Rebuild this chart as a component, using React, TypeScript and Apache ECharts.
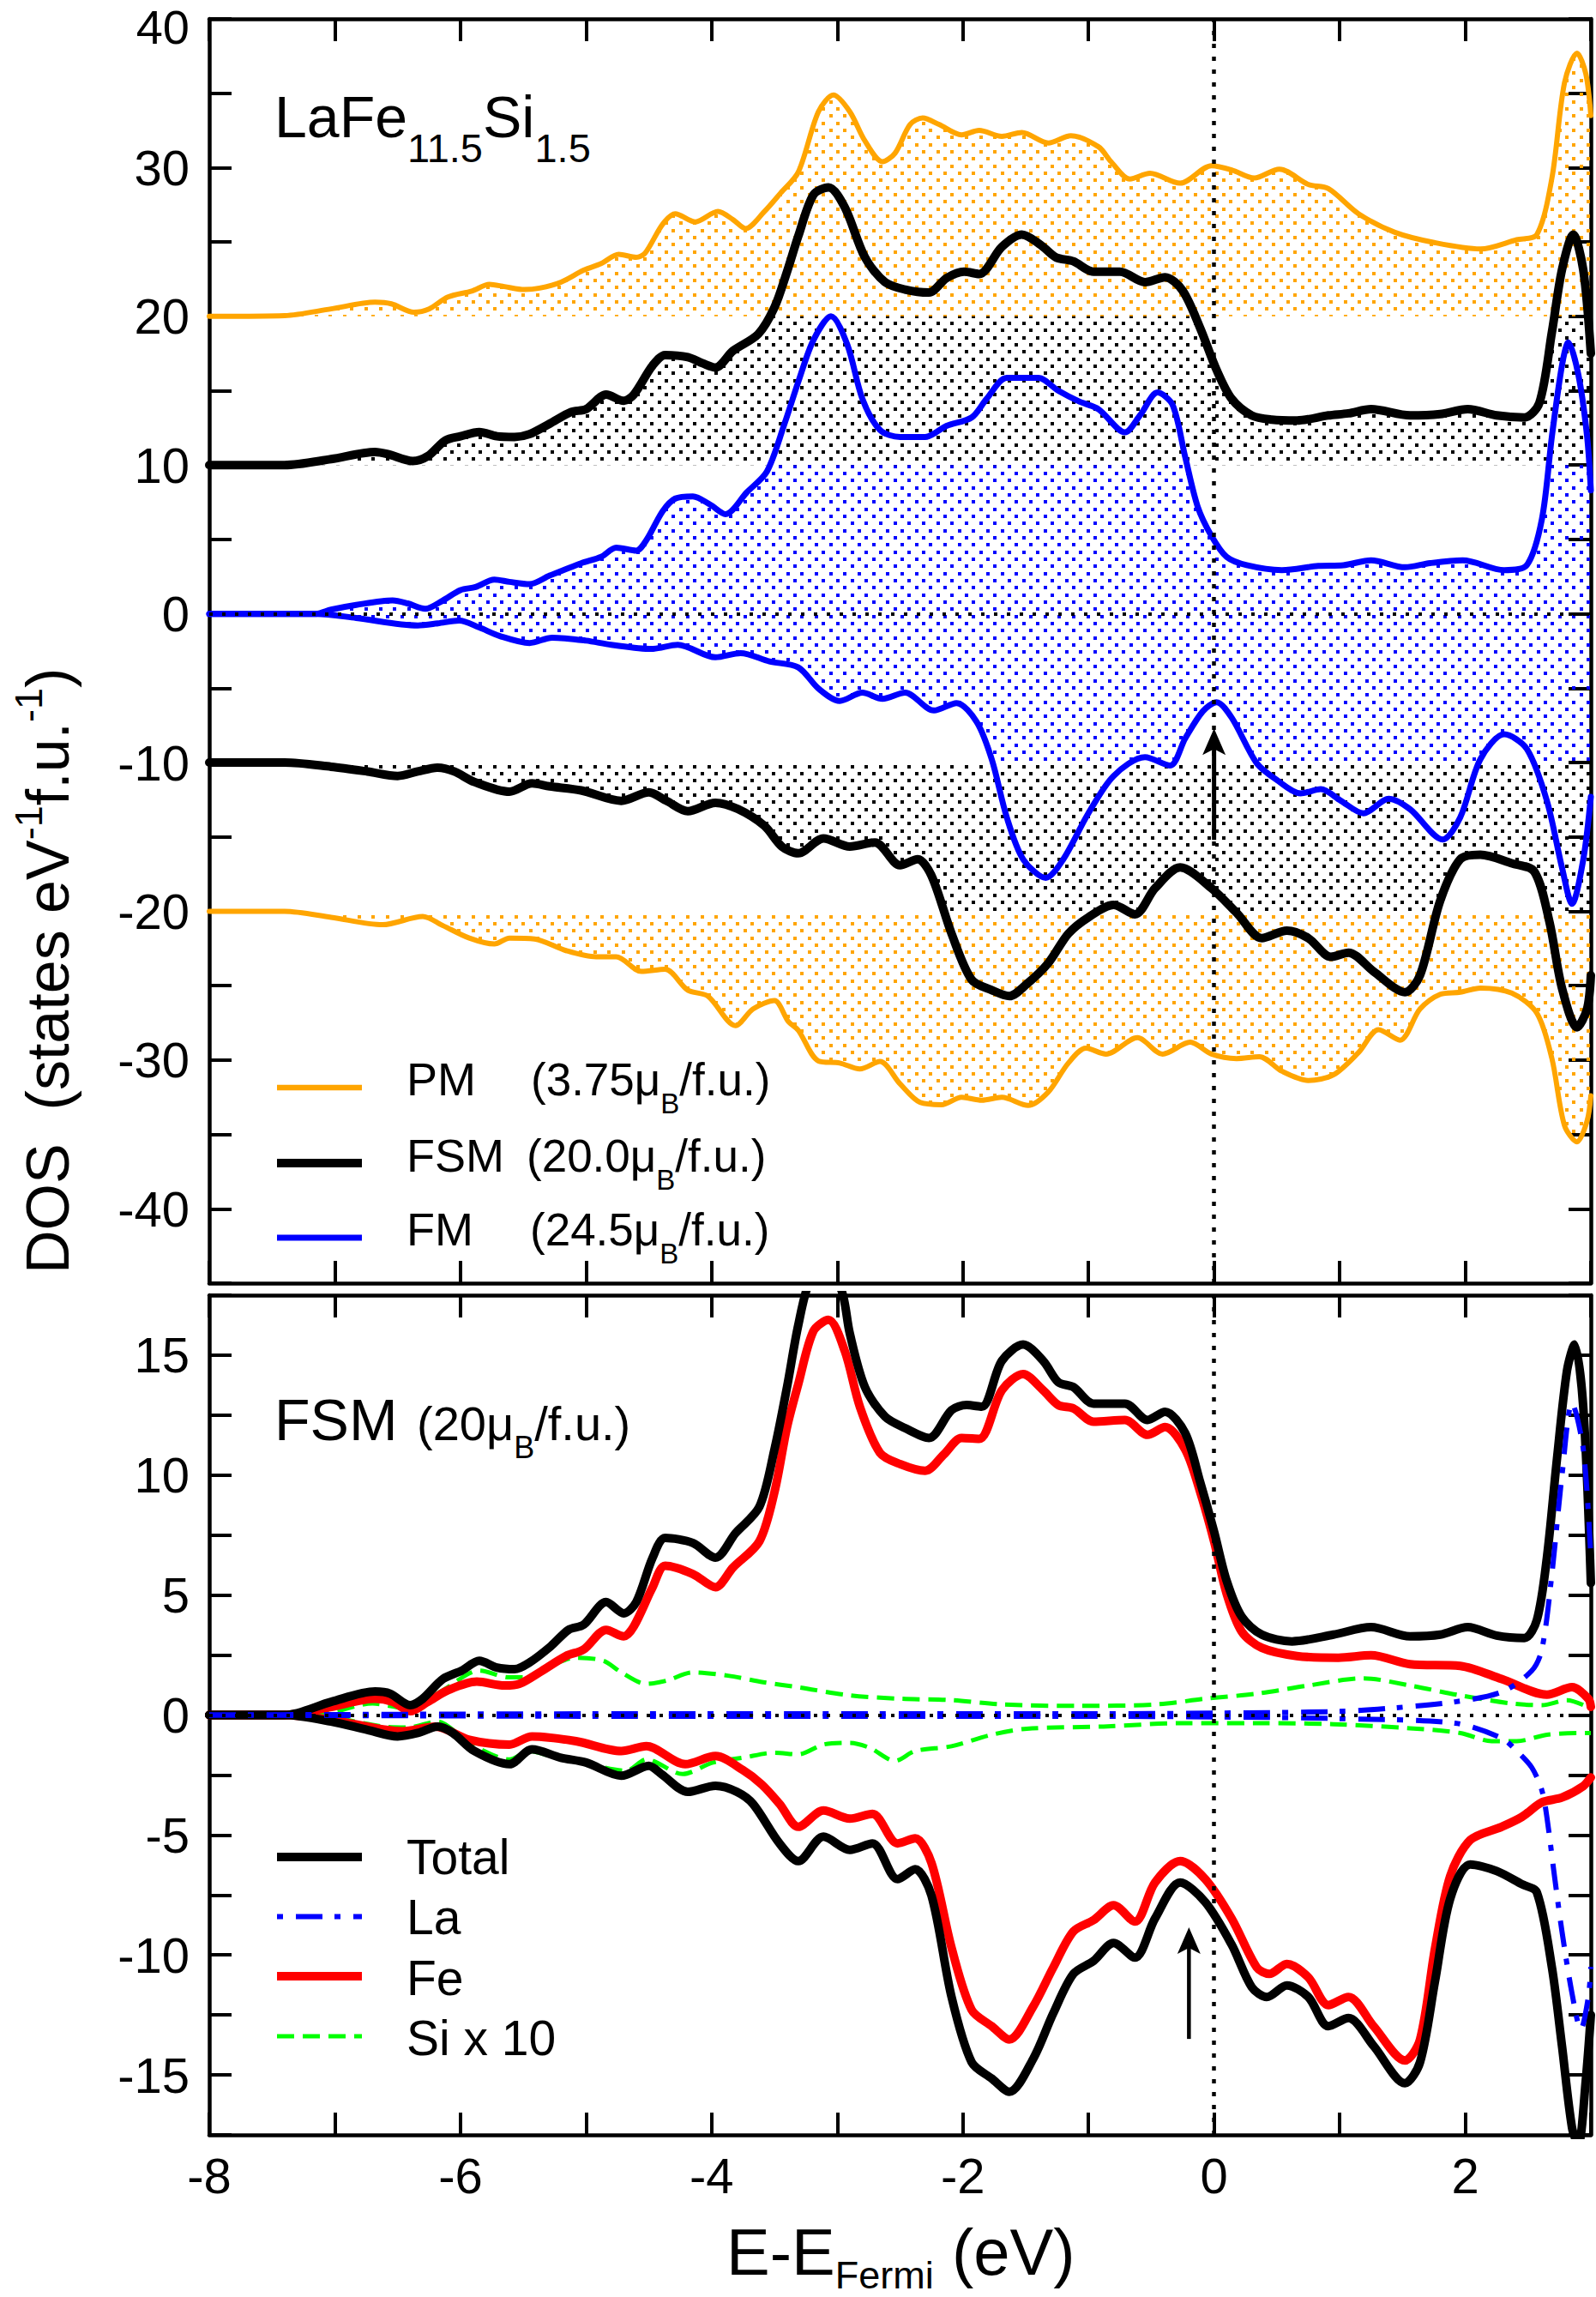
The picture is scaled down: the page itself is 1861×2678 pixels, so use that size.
import React, { useEffect, useRef } from 'react';
import * as echarts from 'echarts';

const FONT = '"Liberation Sans", Arial, Helvetica, sans-serif';

const X_LABELS = [-8, -6, -4, -2, 0, 2];
const TOP_Y_LABELS = [-40, -30, -20, -10, 0, 10, 20, 30, 40];
const BOT_Y_LABELS = [-15, -10, -5, 0, 5, 10, 15];

// ---------- top panel (curves as drawn, with their offsets) ----------
const PM_UP: [number, number][] = [
  [-8, 20], [-7.4, 20.05], [-7.03, 20.5], [-6.68, 20.95], [-6.55, 20.84], [-6.37, 20.28], [-6.25, 20.5],
  [-6.1, 21.3], [-5.91, 21.7], [-5.77, 22.15], [-5.65, 22.0], [-5.49, 21.8], [-5.37, 21.9], [-5.2, 22.3],
  [-5.02, 23.1], [-4.88, 23.55], [-4.74, 24.17], [-4.6, 23.97], [-4.53, 24.25], [-4.39, 26.2], [-4.29, 26.9],
  [-4.13, 26.35], [-3.95, 27.05], [-3.83, 26.5], [-3.73, 25.9], [-3.58, 27.05], [-3.45, 28.3], [-3.31, 29.7],
  [-3.15, 33.76], [-3.03, 34.88], [-2.9, 33.76], [-2.78, 31.8], [-2.64, 30.4], [-2.54, 30.97], [-2.42, 32.9],
  [-2.32, 33.34], [-2.19, 32.9], [-2.01, 32.2], [-1.87, 32.5], [-1.69, 32.1], [-1.53, 32.36], [-1.32, 31.66],
  [-1.14, 32.14], [-0.92, 31.4], [-0.82, 30.4], [-0.67, 29.23], [-0.51, 29.62], [-0.27, 28.95], [-0.02, 30.13],
  [0.14, 29.85], [0.32, 29.3], [0.52, 29.9], [0.75, 28.87], [0.91, 28.59], [1.15, 26.9], [1.44, 25.65],
  [1.76, 24.95], [2.12, 24.53], [2.41, 25.15], [2.57, 25.5], [2.69, 29.3], [2.79, 35.7], [2.89, 37.7],
  [2.96, 36.3], [3.0, 33.5],
];
const PM_DOWN: [number, number][] = [
  [-8, -20], [-7.4, -20.0], [-7.03, -20.4], [-6.62, -20.9], [-6.3, -20.35], [-6.14, -20.96], [-5.93, -21.8],
  [-5.73, -22.2], [-5.61, -21.8], [-5.41, -21.86], [-5.16, -22.64], [-4.92, -23.06], [-4.76, -23.06],
  [-4.56, -24.04], [-4.37, -23.9], [-4.19, -25.3], [-4.03, -25.7], [-3.81, -27.68], [-3.67, -26.56],
  [-3.5, -26.0], [-3.39, -27.4], [-3.31, -28.0], [-3.15, -30.06], [-2.98, -30.2], [-2.82, -30.6],
  [-2.66, -30.1], [-2.5, -31.6], [-2.34, -32.85], [-2.17, -33.0], [-2.01, -32.5], [-1.85, -32.7],
  [-1.69, -32.5], [-1.48, -33.05], [-1.32, -32.15], [-1.16, -30.2], [-1.02, -29.2], [-0.86, -29.6],
  [-0.61, -28.5], [-0.41, -29.6], [-0.19, -28.8], [-0.02, -29.6], [0.18, -29.9], [0.36, -29.77],
  [0.54, -30.75], [0.75, -31.37], [0.95, -31.0], [1.15, -29.5], [1.31, -27.96], [1.48, -28.66],
  [1.64, -26.56], [1.8, -25.58], [1.96, -25.44], [2.12, -25.16], [2.37, -25.5], [2.57, -26.84],
  [2.69, -29.9], [2.79, -34.4], [2.89, -35.5], [2.97, -34.1], [3.0, -32.4],
];
const FSM_UP: [number, number][] = [
  [-8, 10], [-7.4, 10.0], [-7.03, 10.4], [-6.68, 10.88], [-6.58, 10.74], [-6.38, 10.27], [-6.26, 10.6],
  [-6.12, 11.66], [-6.0, 11.94], [-5.85, 12.22], [-5.71, 11.94], [-5.57, 11.89], [-5.45, 12.08],
  [-5.29, 12.78], [-5.12, 13.57], [-5.0, 13.76], [-4.84, 14.74], [-4.7, 14.32], [-4.62, 14.74],
  [-4.47, 16.7], [-4.37, 17.4], [-4.19, 17.26], [-4.07, 16.84], [-3.97, 16.56], [-3.83, 17.68],
  [-3.63, 18.8], [-3.5, 20.6], [-3.4, 23.0], [-3.31, 25.4], [-3.19, 28.17], [-3.07, 28.67], [-2.94, 27.33],
  [-2.78, 23.97], [-2.62, 22.3], [-2.46, 21.8], [-2.27, 21.6], [-2.13, 22.57], [-1.99, 23.0], [-1.87, 22.85],
  [-1.69, 24.67], [-1.53, 25.5], [-1.38, 24.8], [-1.26, 23.97], [-1.12, 23.7], [-0.96, 23.0], [-0.75, 23.0],
  [-0.55, 22.3], [-0.39, 22.63], [-0.25, 21.73], [-0.11, 19.2], [0.02, 16.4], [0.14, 14.46], [0.3, 13.34],
  [0.46, 13.06], [0.66, 13.0], [0.91, 13.34], [1.07, 13.48], [1.25, 13.76], [1.56, 13.34], [1.8, 13.43],
  [2.02, 13.76], [2.25, 13.34], [2.47, 13.2], [2.59, 14.18], [2.69, 18.94], [2.77, 23.13], [2.86, 25.5],
  [2.94, 23.1], [3.0, 17.5],
];
const FSM_DOWN: [number, number][] = [
  [-8, -10], [-7.4, -10.0], [-7.03, -10.28], [-6.74, -10.6], [-6.5, -10.9], [-6.34, -10.6], [-6.18, -10.34],
  [-6.05, -10.6], [-5.89, -11.3], [-5.61, -11.96], [-5.43, -11.4], [-5.29, -11.6], [-5.04, -11.87],
  [-4.72, -12.57], [-4.5, -12.0], [-4.36, -12.57], [-4.19, -13.27], [-3.97, -12.7], [-3.79, -13.13],
  [-3.58, -14.25], [-3.44, -15.65], [-3.31, -16.1], [-3.11, -15.1], [-2.9, -15.65], [-2.7, -15.37],
  [-2.5, -16.9], [-2.36, -16.5], [-2.25, -17.6], [-2.09, -21.5], [-1.93, -24.6], [-1.77, -25.3],
  [-1.63, -25.7], [-1.49, -24.88], [-1.32, -23.48], [-1.16, -21.5], [-1.0, -20.4], [-0.8, -19.57],
  [-0.63, -20.2], [-0.47, -18.45], [-0.27, -17.05], [-0.02, -18.45], [0.18, -20.1], [0.38, -21.8],
  [0.58, -21.3], [0.75, -21.8], [0.93, -23.06], [1.07, -22.78], [1.27, -24.04], [1.52, -25.44],
  [1.64, -24.3], [1.8, -19.3], [1.96, -16.5], [2.12, -16.2], [2.37, -16.77], [2.55, -17.33], [2.67, -20.7],
  [2.77, -25.16], [2.89, -27.8], [2.97, -26.56], [3.0, -24.3],
];
const FM_UP: [number, number][] = [
  [-8, 0], [-7.15, 0], [-7.03, 0.28], [-6.83, 0.6], [-6.54, 0.9], [-6.42, 0.7], [-6.28, 0.34], [-6.14, 0.9],
  [-6.0, 1.6], [-5.88, 1.8], [-5.73, 2.3], [-5.61, 2.15], [-5.45, 2.0], [-5.29, 2.57], [-5.04, 3.4],
  [-4.88, 3.83], [-4.76, 4.45], [-4.6, 4.25], [-4.52, 4.95], [-4.39, 6.9], [-4.29, 7.75], [-4.15, 7.9],
  [-4.01, 7.33], [-3.89, 6.7], [-3.72, 8.17], [-3.56, 9.57], [-3.42, 12.78], [-3.31, 15.6], [-3.19, 18.4],
  [-3.05, 20.0], [-2.92, 18.1], [-2.8, 14.46], [-2.66, 12.36], [-2.5, 11.89], [-2.3, 11.89], [-2.13, 12.64],
  [-1.93, 13.2], [-1.81, 14.46], [-1.65, 15.86], [-1.4, 15.86], [-1.24, 15.0], [-1.08, 14.3], [-0.92, 13.76],
  [-0.71, 12.2], [-0.59, 13.34], [-0.45, 14.88], [-0.33, 14.04], [-0.23, 10.55], [-0.13, 7.2], [-0.02, 5.23],
  [0.1, 3.83], [0.26, 3.27], [0.54, 2.94], [0.83, 3.22], [1.03, 3.27], [1.25, 3.6], [1.52, 3.13], [1.72, 3.41],
  [1.98, 3.6], [2.31, 2.94], [2.49, 3.27], [2.61, 6.35], [2.69, 11.94], [2.77, 16.7], [2.82, 18.24],
  [2.9, 16.1], [2.97, 11.94], [3.0, 8.3],
];
const FM_DOWN: [number, number][] = [
  [-8, 0], [-7.15, 0], [-6.83, -0.28], [-6.34, -0.78], [-6.18, -0.64], [-6.01, -0.45], [-5.85, -0.92],
  [-5.69, -1.48], [-5.45, -1.96], [-5.27, -1.6], [-5.0, -1.8], [-4.8, -2.08], [-4.48, -2.36], [-4.27, -2.08],
  [-3.97, -2.92], [-3.77, -2.64], [-3.54, -3.2], [-3.31, -3.6], [-3.15, -5.02], [-2.98, -5.86], [-2.8, -5.3],
  [-2.64, -5.72], [-2.46, -5.3], [-2.23, -6.5], [-2.05, -6.0], [-1.89, -7.26], [-1.77, -9.78], [-1.65, -13.69],
  [-1.52, -16.5], [-1.34, -17.75], [-1.2, -16.5], [-1.0, -13.4], [-0.8, -10.9], [-0.55, -9.64], [-0.35, -10.2],
  [-0.23, -8.38], [-0.09, -6.56], [0.02, -5.94], [0.14, -6.98], [0.34, -10.05], [0.5, -11.17], [0.69, -12.07],
  [0.85, -11.79], [1.01, -12.57], [1.19, -13.41], [1.39, -12.43], [1.56, -13.13], [1.82, -15.17],
  [1.96, -13.69], [2.12, -9.78], [2.31, -8.1], [2.49, -9.08], [2.65, -12.57], [2.77, -17.05], [2.85, -19.5],
  [2.94, -16.5], [3.0, -12.3],
];

// ---------- bottom panel (FSM projected DOS) ----------
const TOTAL_UP: [number, number][] = [
  [-8, 0], [-7.4, 0], [-7.03, 0.55], [-6.68, 0.98], [-6.56, 0.89], [-6.4, 0.41], [-6.3, 0.68], [-6.14, 1.5],
  [-5.99, 1.85], [-5.85, 2.26], [-5.71, 1.98], [-5.57, 1.91], [-5.45, 2.19], [-5.28, 2.87], [-5.14, 3.55],
  [-5.02, 3.76], [-4.84, 4.71], [-4.7, 4.24], [-4.6, 4.71], [-4.47, 6.56], [-4.37, 7.38], [-4.15, 7.17],
  [-3.97, 6.56], [-3.81, 7.58], [-3.62, 8.68], [-3.5, 11.07], [-3.4, 13.67], [-3.31, 16.26], [-3.21, 18.2],
  [-3.07, 18.67], [-2.96, 17.6], [-2.9, 15.9], [-2.78, 13.67], [-2.62, 12.44], [-2.46, 11.96], [-2.27, 11.55],
  [-2.09, 12.71], [-1.97, 12.92], [-1.85, 12.85], [-1.69, 14.76], [-1.52, 15.44], [-1.36, 14.76],
  [-1.24, 13.87], [-1.12, 13.67], [-0.96, 12.98], [-0.71, 12.98], [-0.53, 12.3], [-0.39, 12.64],
  [-0.23, 11.75], [-0.11, 9.7], [0.0, 7.65], [0.1, 5.6], [0.22, 4.1], [0.38, 3.35], [0.62, 3.07], [0.95, 3.35],
  [1.25, 3.66], [1.56, 3.28], [1.8, 3.35], [2.02, 3.66], [2.25, 3.31], [2.47, 3.21], [2.57, 3.96], [2.65, 6.56],
  [2.73, 10.66], [2.81, 14.35], [2.87, 15.44], [2.94, 12.8], [3.0, 5.5],
];
const TOTAL_DOWN: [number, number][] = [
  [-8, 0], [-7.4, 0], [-7.03, -0.27], [-6.74, -0.62], [-6.5, -0.89], [-6.34, -0.75], [-6.18, -0.48],
  [-6.06, -0.75], [-5.89, -1.5], [-5.61, -2.05], [-5.43, -1.43], [-5.2, -1.78], [-5.0, -1.98], [-4.72, -2.53],
  [-4.5, -2.12], [-4.4, -2.46], [-4.19, -3.2], [-3.97, -2.95], [-3.8, -3.2], [-3.67, -3.71], [-3.46, -5.35],
  [-3.31, -6.09], [-3.11, -5.07], [-2.9, -5.62], [-2.72, -5.35], [-2.52, -6.84], [-2.38, -6.43],
  [-2.25, -7.52], [-2.09, -11.75], [-1.93, -14.47], [-1.77, -15.15], [-1.63, -15.7], [-1.44, -14.33],
  [-1.28, -12.43], [-1.12, -10.79], [-0.96, -10.25], [-0.8, -9.5], [-0.63, -10.11], [-0.47, -8.48],
  [-0.27, -6.98], [-0.07, -7.8], [0.14, -9.57], [0.3, -11.34], [0.42, -11.75], [0.58, -11.27], [0.75, -11.75],
  [0.91, -12.97], [1.07, -12.63], [1.27, -13.79], [1.52, -15.35], [1.64, -14.47], [1.76, -11.07],
  [1.88, -7.66], [2.04, -6.23], [2.25, -6.5], [2.45, -7.05], [2.57, -7.39], [2.69, -10.52], [2.77, -13.79],
  [2.85, -17.2], [2.9, -17.9], [2.96, -15.2], [3.0, -12.5],
];
const FE_UP: [number, number][] = [
  [-8, 0], [-7.4, 0], [-7.03, 0.34], [-6.68, 0.68], [-6.54, 0.55], [-6.4, 0.16], [-6.26, 0.55], [-6.1, 1.03],
  [-5.87, 1.39], [-5.65, 1.23], [-5.53, 1.3], [-5.37, 1.78], [-5.16, 2.46], [-5.02, 2.73], [-4.84, 3.55],
  [-4.7, 3.28], [-4.62, 3.69], [-4.47, 5.33], [-4.37, 6.22], [-4.15, 5.88], [-3.97, 5.33], [-3.83, 6.15],
  [-3.62, 7.24], [-3.5, 9.29], [-3.4, 12.0], [-3.31, 13.8], [-3.19, 16.0], [-3.07, 16.47], [-2.94, 15.17],
  [-2.82, 12.85], [-2.66, 10.93], [-2.5, 10.46], [-2.3, 10.18], [-2.15, 10.87], [-2.01, 11.55],
  [-1.87, 11.51], [-1.69, 13.53], [-1.52, 14.21], [-1.36, 13.53], [-1.24, 12.92], [-1.12, 12.78],
  [-0.96, 12.23], [-0.71, 12.3], [-0.53, 11.68], [-0.39, 12.0], [-0.23, 11.07], [-0.11, 9.29], [0.0, 7.24],
  [0.1, 5.06], [0.22, 3.48], [0.38, 2.8], [0.66, 2.46], [0.99, 2.39], [1.25, 2.49], [1.56, 2.12], [1.96, 2.05],
  [2.29, 1.5], [2.65, 0.85], [2.85, 1.16], [2.98, 0.68], [3.0, 0.34],
];
const FE_DOWN: [number, number][] = [
  [-8, 0], [-7.4, 0], [-7.03, -0.2], [-6.46, -0.68], [-6.2, -0.48], [-5.93, -1.03], [-5.61, -1.23],
  [-5.43, -0.89], [-5.08, -1.09], [-4.72, -1.5], [-4.52, -1.3], [-4.21, -2.05], [-3.97, -1.71], [-3.75, -2.3],
  [-3.6, -2.9], [-3.46, -3.7], [-3.31, -4.66], [-3.11, -3.98], [-2.9, -4.32], [-2.72, -4.12], [-2.52, -5.35],
  [-2.38, -5.14], [-2.25, -6.16], [-2.09, -9.7], [-1.93, -12.29], [-1.77, -12.97], [-1.63, -13.52],
  [-1.44, -12.15], [-1.28, -10.52], [-1.12, -9.02], [-0.96, -8.55], [-0.8, -7.93], [-0.63, -8.61],
  [-0.47, -6.98], [-0.27, -6.09], [-0.07, -6.84], [0.14, -8.48], [0.34, -10.52], [0.44, -10.79],
  [0.58, -10.38], [0.75, -10.93], [0.91, -12.09], [1.07, -11.75], [1.27, -12.97], [1.52, -14.4],
  [1.64, -13.52], [1.76, -9.7], [1.88, -6.71], [2.04, -5.21], [2.29, -4.66], [2.45, -4.25], [2.61, -3.64],
  [2.77, -3.44], [2.94, -2.96], [3.0, -2.6],
];
const LA_UP: [number, number][] = [
  [-8, 0], [-7.0, 0.02], [-5.0, 0.05], [-3.0, 0.05], [-1.0, 0.05], [0.0, 0.08], [1.0, 0.15], [1.44, 0.3],
  [1.92, 0.55], [2.29, 0.96], [2.53, 1.85], [2.61, 2.73], [2.69, 5.88], [2.77, 9.98], [2.85, 13.0],
  [2.94, 11.07], [3.0, 6.56],
];
const LA_DOWN: [number, number][] = [
  [-8, 0], [-7.0, -0.02], [-5.0, -0.05], [-3.0, -0.05], [-1.0, -0.05], [0.0, -0.08], [1.0, -0.15],
  [1.92, -0.34], [2.29, -0.96], [2.41, -1.5], [2.53, -2.19], [2.61, -3.14], [2.65, -4.26], [2.71, -6.7],
  [2.77, -9.02], [2.85, -11.6], [2.92, -13.1], [2.98, -11.75], [3.0, -10.5],
];
const SI_UP: [number, number][] = [
  [-8, 0], [-7.4, 0], [-7.06, 0.07], [-6.7, 0.48], [-6.42, 0.27], [-6.14, 1.03], [-5.85, 1.85], [-5.61, 1.57],
  [-5.47, 1.57], [-5.28, 2.05], [-5.08, 2.39], [-4.86, 2.26], [-4.72, 1.78], [-4.52, 1.3], [-4.36, 1.43],
  [-4.15, 1.78], [-3.87, 1.64], [-3.59, 1.37], [-3.31, 1.16], [-2.9, 0.82], [-2.5, 0.68], [-2.09, 0.62],
  [-1.69, 0.44], [-1.08, 0.38], [-0.47, 0.44], [-0.07, 0.68], [0.34, 0.89], [0.75, 1.23], [1.19, 1.53],
  [1.56, 1.23], [1.96, 0.82], [2.37, 0.48], [2.61, 0.41], [2.81, 0.62], [3.0, 0.27],
];
const SI_DOWN: [number, number][] = [
  [-8, 0], [-7.4, 0], [-7.06, -0.07], [-6.62, -0.48], [-6.42, -0.52], [-6.18, -0.27], [-6.01, -0.82],
  [-5.81, -1.5], [-5.61, -1.85], [-5.45, -1.5], [-5.24, -1.78], [-5.04, -1.98], [-4.68, -2.32], [-4.52, -1.85],
  [-4.23, -2.46], [-3.99, -1.98], [-3.75, -1.78], [-3.5, -1.57], [-3.31, -1.64], [-3.11, -1.23], [-2.9, -1.16],
  [-2.74, -1.37], [-2.54, -1.91], [-2.38, -1.5], [-2.09, -1.3], [-1.77, -0.82], [-1.49, -0.57], [-0.88, -0.48],
  [-0.27, -0.34], [0.34, -0.34], [0.95, -0.38], [1.56, -0.55], [1.96, -0.75], [2.21, -1.09], [2.41, -1.09],
  [2.65, -0.82], [2.9, -0.75], [3.0, -0.75],
];

// arrows: [E, from, tip]
const TOP_ARROW: [number, number, number][] = [[0, -15.2, -7.7]];
const BOT_ARROW: [number, number, number][] = [[-0.2, -13.5, -8.85]];

const ORANGE = '#FFA500';
const BLUE = '#0000FF';
const RED = '#FF0000';
const GREEN = '#00FF00';
const BLACK = '#000000';
const SMOOTH = 0.3;

function dots(color: string, size: number) {
  const c = document.createElement('canvas');
  c.width = 50;
  c.height = 50;
  const ctx = c.getContext('2d')!;
  ctx.fillStyle = color;
  for (let r = 0; r < 6; r++) {
    const y = Math.round((r * 50) / 6);
    for (let k = 0; k < 3; k++) {
      const x = Math.round((k * 50) / 3 + (r % 2 ? 25 / 3 : 0));
      ctx.fillRect(x, y, size, size);
    }
  }
  return { image: c, repeat: 'repeat', imageWidth: 50, imageHeight: 50 };
}

type Seg = { t: string; size: number; dy?: number };

function buildOption() {
  const mctx = document.createElement('canvas').getContext('2d')!;
  const measure = (t: string, size: number) => {
    mctx.font = `${size}px ${FONT}`;
    return mctx.measureText(t).width;
  };
  const textEl = (text: string, x: number, base: number, size: number, align = 'left') => ({
    type: 'text',
    x,
    y: base - 0.3465 * size,
    silent: true,
    style: {
      text,
      font: `${size}px ${FONT}`,
      fill: BLACK,
      align,
      verticalAlign: 'middle',
      textAlign: align,
      textVerticalAlign: 'middle',
    },
  });
  const run = (segs: Seg[], x0: number, base: number) => {
    let x = x0;
    const out: any[] = [];
    for (const s of segs) {
      const lead = (s.t.match(/^ */) || [''])[0];
      const trail = (s.t.match(/ *$/) || [''])[0];
      const body = s.t.trim();
      x += measure(lead, s.size);
      out.push(textEl(body, x, base + (s.dy || 0), s.size));
      x += measure(body, s.size) + measure(trail, s.size);
    }
    return out;
  };

  const pOrange = dots(ORANGE, 4);
  const pBlack = dots(BLACK, 4);
  const pBlue = dots(BLUE, 4);

  const near = (arr: number[], v: number) => arr.some((a) => Math.abs(a - v) < 1e-6);

  const xa = (gridIndex: number, position: string, labels: boolean) => ({
    type: 'value',
    gridIndex,
    position,
    min: -8,
    max: 3,
    interval: 1,
    axisLine: { show: true, onZero: false, lineStyle: { color: BLACK, width: 4.5 } },
    axisTick: { show: true, inside: true, length: 26, lineStyle: { color: BLACK, width: 4 } },
    axisLabel: labels
      ? {
          show: true,
          margin: 18,
          fontSize: 58,
          fontFamily: FONT,
          color: BLACK,
          formatter: (v: number) => (near(X_LABELS, v) ? String(v) : ''),
        }
      : { show: false },
    splitLine: { show: false },
  });
  // the topmost label (at the very edge of the page) is drawn separately so it stays inside the page
  const ya = (gridIndex: number, position: string, min: number, max: number, interval: number, labels: number[] | null) => ({
    type: 'value',
    gridIndex,
    position,
    min,
    max,
    interval,
    axisLine: { show: true, onZero: false, lineStyle: { color: BLACK, width: 4.5 } },
    axisTick: { show: true, inside: true, length: 26, lineStyle: { color: BLACK, width: 4 } },
    axisLabel: labels
      ? {
          show: true,
          margin: 23,
          fontSize: 58,
          fontFamily: FONT,
          color: BLACK,
          formatter: (v: number) => (near(labels, v) && Math.abs(v - max) > 1e-6 ? String(v) : ''),
        }
      : { show: false },
    splitLine: { show: false },
  });

  const area = (data: any, origin: number, pattern: any, xi: number, yi: number) => ({
    type: 'line',
    xAxisIndex: xi,
    yAxisIndex: yi,
    data,
    symbol: 'none',
    showSymbol: false,
    smooth: SMOOTH,
    silent: true,
    z: 1,
    lineStyle: { width: 0, opacity: 0 },
    areaStyle: { origin, color: pattern, opacity: 1 },
  });
  const line = (data: any, color: string, width: number, xi: number, yi: number, type: any = 'solid', extra: any = {}) => ({
    type: 'line',
    xAxisIndex: xi,
    yAxisIndex: yi,
    data,
    symbol: 'none',
    showSymbol: false,
    smooth: SMOOTH,
    silent: true,
    z: 3,
    lineStyle: { color, width, type, cap: type === 'solid' ? 'round' : 'butt', join: 'round' },
    ...extra,
  });
  const refLines = {
    markLine: {
      silent: true,
      symbol: ['none', 'none'],
      label: { show: false },
      animation: false,
      data: [
        { yAxis: 0, lineStyle: { color: BLACK, width: 4, type: [4, 11] } },
        { xAxis: 0, lineStyle: { color: BLACK, width: 4.5, type: [5, 10] } },
      ],
    },
  };
  const arrow = (data: any, xi: number, yi: number, lw: number) => ({
    type: 'custom',
    xAxisIndex: xi,
    yAxisIndex: yi,
    data,
    silent: true,
    z: 10,
    renderItem: (_p: any, api: any) => {
      const p0 = api.coord([api.value(0), api.value(1)]);
      const p1 = api.coord([api.value(0), api.value(2)]);
      return {
        type: 'group',
        children: [
          {
            type: 'line',
            shape: { x1: p0[0], y1: p0[1], x2: p1[0], y2: p1[1] + 20 },
            style: { stroke: BLACK, lineWidth: lw },
          },
          {
            type: 'polygon',
            shape: {
              points: [
                [p1[0], p1[1]],
                [p1[0] + 13.5, p1[1] + 31],
                [p1[0], p1[1] + 24],
                [p1[0] - 13.5, p1[1] + 31],
              ],
            },
            style: { fill: BLACK },
          },
        ],
      };
    },
  });

  const series: any[] = [
    // top fills
    area(FM_UP, 0, pBlue, 0, 0),
    area(FM_DOWN, 0, pBlue, 0, 0),
    area(FSM_UP, 10, pBlack, 0, 0),
    area(FSM_DOWN, -10, pBlack, 0, 0),
    area(PM_UP, 20, pOrange, 0, 0),
    area(PM_DOWN, -20, pOrange, 0, 0),
    // top lines
    line(PM_UP, ORANGE, 6, 0, 0, 'solid', refLines),
    line(PM_DOWN, ORANGE, 6, 0, 0),
    line(FM_UP, BLUE, 7, 0, 0),
    line(FM_DOWN, BLUE, 7, 0, 0),
    line(FSM_UP, BLACK, 10, 0, 0),
    line(FSM_DOWN, BLACK, 10, 0, 0),
    arrow(TOP_ARROW, 0, 0, 5),
    // bottom lines
    line(SI_UP, GREEN, 5, 2, 2, [20, 10], refLines),
    line(SI_DOWN, GREEN, 5, 2, 2, [20, 10]),
    line(FE_UP, RED, 10, 2, 2),
    line(FE_DOWN, RED, 10, 2, 2),
    line(TOTAL_UP, BLACK, 10, 2, 2),
    line(TOTAL_DOWN, BLACK, 10, 2, 2),
    line(LA_UP, BLUE, 6, 2, 2, [31, 14, 7, 15]),
    line(LA_DOWN, BLUE, 6, 2, 2, [31, 14, 7, 15]),
    arrow(BOT_ARROW, 2, 2, 4.5),
  ];

  const legendLine = (y: number, color: string, w: number, dash?: number[], offset = 0) => ({
    type: 'line',
    silent: true,
    shape: { x1: 323, y1: y, x2: 422, y2: y },
    style: { stroke: color, lineWidth: w, lineDash: dash || null, lineDashOffset: offset },
  });

  const topLabel = TOP_Y_LABELS[TOP_Y_LABELS.length - 1];

  const graphics: any[] = [
    // topmost y tick label
    textEl(String(topLabel), 221, 51, 56, 'right'),
    ...run([{ t: 'LaFe', size: 68 }, { t: '11.5', size: 47, dy: 29 }, { t: 'Si', size: 68 }, { t: '1.5', size: 47, dy: 29 }], 320, 160),
    // top legend
    legendLine(1268, ORANGE, 6.5),
    legendLine(1356, BLACK, 10),
    legendLine(1443, BLUE, 7),
    ...run([{ t: 'PM', size: 54 }], 474, 1277),
    ...run([{ t: '(3.75μ', size: 53 }, { t: 'B', size: 33, dy: 21 }, { t: '/f.u.)', size: 53 }], 619, 1277),
    ...run([{ t: 'FSM', size: 54 }], 474, 1366),
    ...run([{ t: '(20.0μ', size: 53 }, { t: 'B', size: 33, dy: 21 }, { t: '/f.u.)', size: 53 }], 614, 1366),
    ...run([{ t: 'FM', size: 54 }], 474, 1452),
    ...run([{ t: '(24.5μ', size: 53 }, { t: 'B', size: 33, dy: 21 }, { t: '/f.u.)', size: 53 }], 618, 1452),
    // bottom panel label
    ...run([{ t: 'FSM', size: 68 }], 320, 1679),
    ...run([{ t: '(20μ', size: 56 }, { t: 'B', size: 36, dy: 21 }, { t: '/f.u.)', size: 56 }], 486, 1679),
    // bottom legend
    legendLine(2165, BLACK, 10),
    legendLine(2234.5, BLUE, 6, [7, 15, 31, 14]),
    legendLine(2304, RED, 10),
    legendLine(2374, GREEN, 5, [20, 10]),
    ...run([{ t: 'Total', size: 57 }], 474, 2185),
    ...run([{ t: 'La', size: 57 }], 474, 2255),
    ...run([{ t: 'Fe', size: 57 }], 474, 2326),
    ...run([{ t: 'Si x 10', size: 57 }], 474, 2396),
    // x-axis title
    ...run([{ t: 'E-E', size: 76 }, { t: 'Fermi', size: 45, dy: 16 }], 847, 2652),
    ...run([{ t: '(eV)', size: 76 }], 1110, 2652),
    // y-axis title (rotated)
    {
      type: 'group',
      x: 80,
      y: 1485,
      rotation: Math.PI / 2,
      silent: true,
      children: run(
        [
          { t: 'DOS  (states eV', size: 70 },
          { t: '-1', size: 45, dy: -31 },
          { t: 'f.u.', size: 70 },
          { t: '-1', size: 45, dy: -31 },
          { t: ')', size: 70 },
        ],
        0,
        0,
      ),
    },
  ];

  return {
    animation: false,
    backgroundColor: '#ffffff',
    grid: [
      { left: 244, top: 22, width: 1611, height: 1474 },
      { left: 244, top: 1510, width: 1611, height: 979 },
    ],
    xAxis: [xa(0, 'bottom', false), xa(0, 'top', false), xa(1, 'bottom', true), xa(1, 'top', false)],
    yAxis: [
      ya(0, 'left', -45, 40, 5, TOP_Y_LABELS),
      ya(0, 'right', -45, 40, 5, null),
      ya(1, 'left', -17.5, 17.5, 2.5, BOT_Y_LABELS),
      ya(1, 'right', -17.5, 17.5, 2.5, null),
    ],
    series,
    graphic: graphics,
  };
}

export default function App() {
  const ref = useRef<HTMLDivElement>(null);
  useEffect(() => {
    const chart = echarts.init(ref.current!, null, { renderer: 'svg' });
    chart.setOption(buildOption() as any);
    return () => chart.dispose();
  }, []);
  return (
    <div
      ref={ref}
      style={{ position: 'absolute', left: 0, top: 0, width: 1861, height: 2678, background: '#ffffff' }}
    />
  );
}
